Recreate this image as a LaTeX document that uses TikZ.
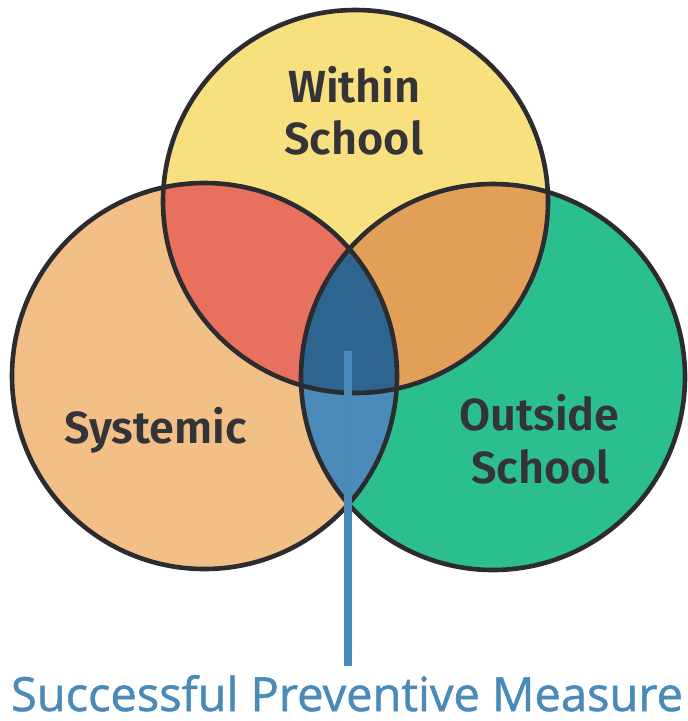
\documentclass[tikz,border=0pt]{standalone}
\usepackage{fontspec}
\setmainfont{Open Sans}
\newfontfamily\labfont{Fira Sans SemiBold}
\newfontfamily\measfont{Open Sans}[FakeBold=1.2]
\definecolor{cyel}{HTML}{F9E07F}
\definecolor{csys}{HTML}{F2BF87}
\definecolor{cgrn}{HTML}{2BBF8F}
\definecolor{cred}{HTML}{E8705F}
\definecolor{corg}{HTML}{E19F57}
\definecolor{cdblue}{HTML}{2E6590}
\definecolor{clblue}{HTML}{4A8BBA}
\definecolor{cstroke}{HTML}{2C2C30}
\definecolor{ctext}{HTML}{333338}
\definecolor{cmeas}{HTML}{4A8AB8}
\tikzset{
  outline/.style={draw=cstroke, line width=4.6pt},
  lab/.style={font=\labfont\fontsize{45}{52}\selectfont, text=ctext, inner sep=0pt, anchor=base},
  measlab/.style={font=\measfont\fontsize{46}{52}\selectfont, text=cmeas, inner sep=0pt, anchor=base},
  pointer/.style={draw=cmeas, line width=8pt}
}
\begin{document}
\begin{tikzpicture}[x=1pt,y=-1pt]
\useasboundingbox (0,0) rectangle (688,721);
\def\pT{(355.5,201.5) ellipse [x radius=192.5pt, y radius=191.5pt]}
\def\pL{(204.5,376) ellipse [x radius=192.5pt, y radius=193pt]}
\def\pR{(493,377) ellipse [x radius=192pt, y radius=193pt]}
\fill[csys] \pL;
\fill[cgrn] \pR;
\fill[cyel] \pT;
\begin{scope}\clip \pT; \fill[cred] \pL; \end{scope}
\begin{scope}\clip \pT; \fill[corg] \pR; \end{scope}
\begin{scope}\clip \pL; \fill[clblue] \pR; \end{scope}
\begin{scope}\clip \pT; \clip \pL; \fill[cdblue] \pR; \end{scope}
\path[outline] \pL;
\path[outline] \pR;
\path[outline] \pT;
\node[lab] (within) at (354.5,102) {Within};
\node[lab] (school1) at (354,154) {School};
\node[lab] (systemic) at (155.5,443) {Systemic};
\node[lab] (outside) at (539.5,430) {Outside};
\node[lab] (school2) at (540.5,483) {School};
\node[measlab] (measure) at (347,711) {\resizebox{672pt}{!}{Successful Preventive Measure}};
\coordinate (lineTop) at (347.5,351);
\coordinate (lineEnd) at (347.5,666);
\draw[pointer] (lineTop) -- (lineEnd);
\end{tikzpicture}
\end{document}
